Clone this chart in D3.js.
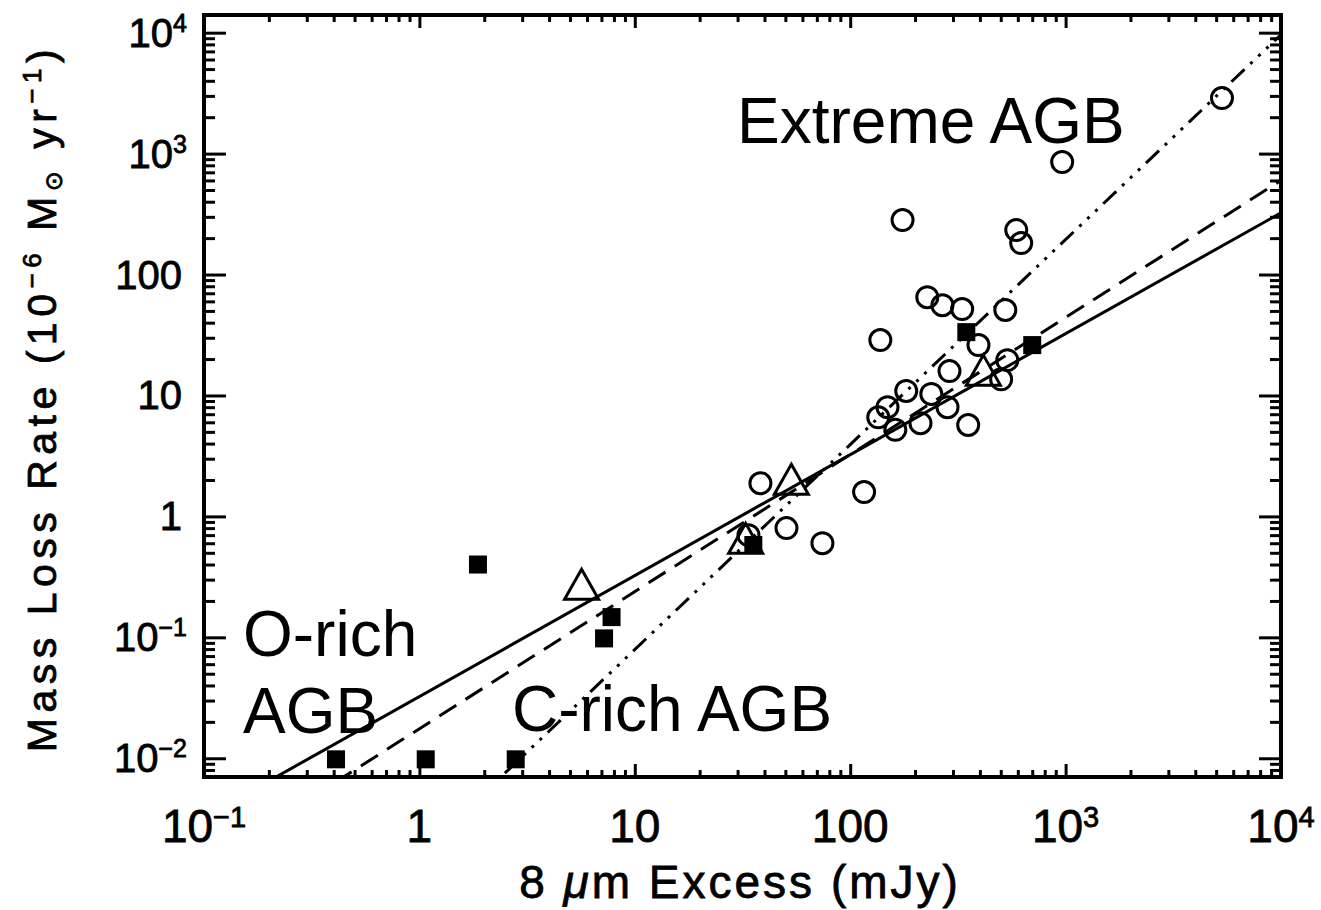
<!DOCTYPE html>
<html><head><meta charset="utf-8">
<script src="https://cdn.jsdelivr.net/npm/d3@7"></script>
<style>body{margin:0;background:#fff}svg{display:block}</style>
</head><body><svg id="c" width="1321" height="910"></svg>
<script>
// ---- data ----
const xTickValues = [0.1, 1, 10, 100, 1000, 10000];
const xTickBase = ["10", "1", "10", "100", "10", "10"];
const xTickExp  = ["−1", "", "", "", "3", "4"];
const yTickValues = [0.01, 0.1, 1, 10, 100, 1000, 10000];
const yTickBase = ["10", "10", "1", "10", "100", "10", "10"];
const yTickExp  = ["−2", "−1", "", "", "", "3", "4"];

// filled squares (O-rich AGB)
const squareX = [0.41, 1.07, 2.8, 1.87, 7.2, 7.8, 35.5, 346, 700];
const squareY = [0.0098, 0.0098, 0.0098, 0.40, 0.098, 0.147, 0.58, 33.4, 26.1];
// open triangles
const triX = [5.66, 32.7, 53.3, 415];
const triY = [0.275, 0.66, 2.03, 16.2];
// open circles (C-rich / extreme AGB)
const circX = [5321, 964, 175, 590, 622, 228, 268, 331, 525, 138, 394, 289, 536, 502,
               182, 238, 149, 135, 162, 212, 283, 353, 116, 38.3, 50.6, 74.3, 33.7];
const circY = [2877, 851, 282, 233, 182, 65, 55.8, 51.8, 50.9, 28.7, 26.1, 15.9, 19.6, 13.6,
               10.9, 10.3, 8.0, 6.6, 5.2, 5.9, 8.0, 5.7, 1.59, 1.88, 0.80, 0.60, 0.70];
// fit lines, endpoints
const fitSolidX = [0.1, 10000],  fitSolidY = [0.00324, 324];
const fitDashX  = [0.1, 10000],  fitDashY  = [0.00129, 601];
const fitDotX   = [1, 10000],    fitDotY   = [0.0016, 9640];

// ---- layout ----
const L = 204, R = 1281, T = 15, B = 777;
const svg = d3.select("#c");
svg.append("rect").attr("width", 1321).attr("height", 910).attr("fill", "#fff");
const x = d3.scaleLog().domain([0.1, 10000]).range([L, R]);
const y = d3.scaleLog().domain([0.007, 14000]).range([B, T]);

const font = "'Liberation Sans', Arial, Helvetica, sans-serif";

svg.append("clipPath").attr("id", "clip").append("rect")
  .attr("x", L).attr("y", T).attr("width", R - L).attr("height", B - T);

// ---- ticks ----
const xMinor = x.ticks().filter(v => !xTickValues.some(m => Math.abs(m - v) / m < 1e-6));
const yMinor = y.ticks().filter(v => !yTickValues.some(m => Math.abs(m - v) / m < 1e-6));

function styleAxis(g) {
  g.select(".domain").remove();
  g.selectAll(".tick line").attr("stroke", "#000").attr("stroke-width", 3);
  g.selectAll(".tick text").remove();
}
svg.append("g").attr("transform", `translate(0,${B})`)
  .call(d3.axisBottom(x).tickValues(xMinor).tickSize(-7).tickSizeOuter(0)).call(styleAxis);
svg.append("g").attr("transform", `translate(0,${B})`)
  .call(d3.axisBottom(x).tickValues(xTickValues).tickSize(-13).tickSizeOuter(0)).call(styleAxis);
svg.append("g").attr("transform", `translate(0,${T})`)
  .call(d3.axisTop(x).tickValues(xMinor).tickSize(-7).tickSizeOuter(0)).call(styleAxis);
svg.append("g").attr("transform", `translate(0,${T})`)
  .call(d3.axisTop(x).tickValues(xTickValues).tickSize(-13).tickSizeOuter(0)).call(styleAxis);
svg.append("g").attr("transform", `translate(${L},0)`)
  .call(d3.axisLeft(y).tickValues(yMinor).tickSize(-11).tickSizeOuter(0)).call(styleAxis);
svg.append("g").attr("transform", `translate(${L},0)`)
  .call(d3.axisLeft(y).tickValues(yTickValues).tickSize(-22).tickSizeOuter(0)).call(styleAxis);
svg.append("g").attr("transform", `translate(${R},0)`)
  .call(d3.axisRight(y).tickValues(yMinor).tickSize(-11).tickSizeOuter(0)).call(styleAxis);
svg.append("g").attr("transform", `translate(${R},0)`)
  .call(d3.axisRight(y).tickValues(yTickValues).tickSize(-22).tickSizeOuter(0)).call(styleAxis);

// frame
svg.append("rect").attr("x", L).attr("y", T).attr("width", R - L).attr("height", B - T)
  .attr("fill", "none").attr("stroke", "#000").attr("stroke-width", 4);

// tick labels
xTickValues.forEach((v, i) => {
  const t = svg.append("text").attr("x", x(v)).attr("y", 842)
    .attr("text-anchor", "middle").attr("font-family", font).attr("font-size", 46)
    .attr("fill", "#000").attr("stroke", "#000").attr("stroke-width", 0.8);
  t.append("tspan").text(xTickBase[i]);
  if (xTickExp[i]) t.append("tspan").attr("dy", -15).attr("font-size", 29).text(xTickExp[i]);
});
yTickValues.forEach((v, i) => {
  const t = svg.append("text").attr("x", yTickExp[i] ? 187 : 182).attr("y", y(v) + 14)
    .attr("text-anchor", "end").attr("font-family", font).attr("font-size", 40)
    .attr("fill", "#000").attr("stroke", "#000").attr("stroke-width", 0.8);
  t.append("tspan").text(yTickBase[i]);
  if (yTickExp[i]) t.append("tspan").attr("dy", -15).attr("font-size", 25).text(yTickExp[i]);
});

// axis titles
const xt = svg.append("text").attr("x", 740).attr("y", 898).attr("text-anchor", "middle")
  .attr("font-family", font).attr("font-size", 46).attr("letter-spacing", 3)
  .attr("fill", "#000").attr("stroke", "#000").attr("stroke-width", 0.8);
xt.append("tspan").text("8 ");
xt.append("tspan").attr("font-style", "italic").text("μ");
xt.append("tspan").text("m Excess (mJy)");

const yt = svg.append("text").attr("transform", "translate(56,398) rotate(-90)")
  .attr("text-anchor", "middle").attr("font-family", font).attr("font-size", 41)
  .attr("letter-spacing", 5.5).attr("fill", "#000").attr("stroke", "#000").attr("stroke-width", 0.8);
yt.append("tspan").text("Mass Loss Rate (10");
yt.append("tspan").attr("dy", -15).attr("font-size", 26).text("−6");
yt.append("tspan").attr("dy", 15).text(" M");
yt.append("tspan").attr("dy", 6).attr("font-size", 24).attr("font-family", "'DejaVu Sans', sans-serif").text("⊙");
yt.append("tspan").attr("dy", -6).text(" yr");
yt.append("tspan").attr("dy", -15).attr("font-size", 26).text("−1");
yt.append("tspan").attr("dy", 15).text(")");

// ---- fit lines ----
const line = d3.line().x(d => x(d[0])).y(d => y(d[1]));
const lg = svg.append("g").attr("clip-path", "url(#clip)").attr("fill", "none").attr("stroke", "#000").attr("stroke-width", 3);
lg.append("path").attr("d", line(d3.zip(fitSolidX, fitSolidY)));
lg.append("path").attr("d", line(d3.zip(fitDashX, fitDashY))).attr("stroke-dasharray", "20,11");
lg.append("path").attr("d", line(d3.zip(fitDotX, fitDotY))).attr("stroke-dasharray", "18,8,3,8,3,8,3,8");

// ---- markers ----
const mg = svg.append("g").attr("clip-path", "url(#clip)");
mg.selectAll("circle").data(d3.zip(circX, circY)).join("circle")
  .attr("cx", d => x(d[0])).attr("cy", d => y(d[1])).attr("r", 10.5)
  .attr("fill", "none").attr("stroke", "#000").attr("stroke-width", 3);
mg.selectAll("path.tri").data(d3.zip(triX, triY)).join("path").attr("class", "tri")
  .attr("d", d => { const cx = x(d[0]), cy = y(d[1]); return `M${cx},${cy - 15}L${cx + 17},${cy + 15}L${cx - 17},${cy + 15}Z`; })
  .attr("fill", "none").attr("stroke", "#000").attr("stroke-width", 3).attr("stroke-linejoin", "miter");
mg.selectAll("rect.sq").data(d3.zip(squareX, squareY)).join("rect").attr("class", "sq")
  .attr("x", d => x(d[0]) - 9).attr("y", d => y(d[1]) - 9).attr("width", 18).attr("height", 18)
  .attr("fill", "#000");

// ---- annotations ----
const ann = [["Extreme AGB", 737, 143], ["O-rich", 243, 656], ["AGB", 243, 733], ["C-rich AGB", 512, 731]];
ann.forEach(a => svg.append("text").attr("x", a[1]).attr("y", a[2]).attr("font-family", font)
  .attr("font-size", 64).attr("fill", "#000").text(a[0]));
</script></body></html>
